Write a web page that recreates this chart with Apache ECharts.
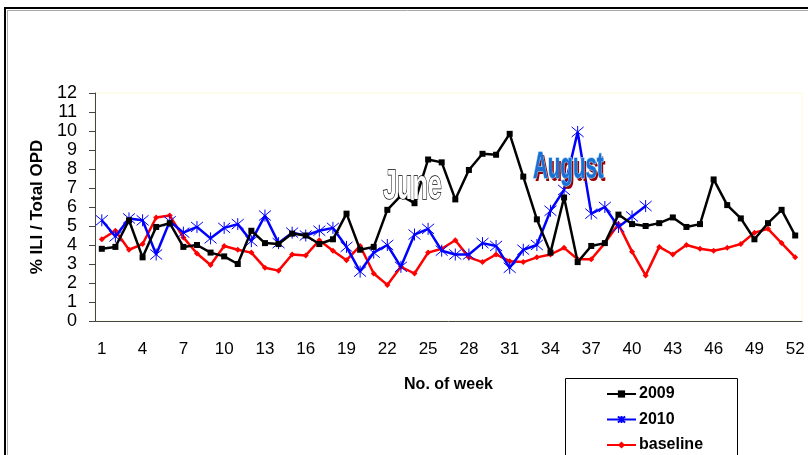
<!DOCTYPE html>
<html>
<head>
<meta charset="utf-8">
<script src="https://cdn.jsdelivr.net/npm/echarts@6/dist/echarts.min.js"></script>
<style>
  html, body { margin: 0; padding: 0; background: #fff; }
  #chart { width: 808px; height: 455px; }
</style>
</head>
<body>
<div id="chart"></div>
<script>
// weeks 1..52
var weeks = ['1','2','3','4','5','6','7','8','9','10','11','12','13','14','15','16','17','18','19','20',
  '21','22','23','24','25','26','27','28','29','30','31','32','33','34','35','36','37','38','39','40',
  '41','42','43','44','45','46','47','48','49','50','51','52'];

// % ILI / Total OPD
var ili2009 = [3.8, 3.9, 5.3, 3.35, 4.95, 5.15, 3.9, 4.0, 3.6, 3.4, 3.0, 4.75,
  4.1, 4.05, 4.6, 4.5, 4.05, 4.3, 5.65, 3.75, 3.9, 5.85, 6.6, 6.2, 8.5,
  8.35, 6.4, 7.95, 8.8, 8.75, 9.85, 7.6, 5.35, 3.6, 6.5, 3.1, 3.95,
  4.1, 5.6, 5.1, 5.0, 5.15, 5.45, 4.95, 5.1, 7.45, 6.1, 5.4, 4.3, 5.15, 5.85, 4.5];

var ili2010 = [5.3, 4.45, 5.4, 5.3, 3.5, 5.25, 4.65, 4.95, 4.35, 4.9, 5.1, 4.2,
  5.55, 4.1, 4.65, 4.5, 4.75, 4.9, 3.9, 2.6, 3.6, 4.0, 2.85, 4.55, 4.85,
  3.7, 3.5, 3.5, 4.1, 3.95, 2.8, 3.75, 4.0, 5.8, 6.9, 9.95, 5.65,
  6.0, 4.95, 5.5, 6.05, null, null, null, null, null, null, null, null, null, null, null];

var baseline = [4.3, 4.75, 3.75, 4.05, 5.45, 5.55, 4.4, 3.55, 2.95, 3.95, 3.75, 3.6,
  2.8, 2.65, 3.5, 3.45, 4.25, 3.7, 3.2, 3.95, 2.5, 1.9, 2.85, 2.5, 3.6,
  3.8, 4.25, 3.35, 3.1, 3.5, 3.15, 3.1, 3.35, 3.5, 3.85, 3.25, 3.25,
  4.1, 5.1, 3.65, 2.4, 3.9, 3.5, 4.0, 3.8, 3.7, 3.85, 4.05, 4.65, 4.85, 4.1, 3.35];

var yTicks = [0, 12, 1]; // min, max, step

var FONT = '"Liberation Sans", Arial, sans-serif';
var asterisk = 'path://M5,0L5,10M0.8,0.8L9.2,9.2M0.8,9.2L9.2,0.8';

var myChart = echarts.init(document.getElementById('chart'));

var option = {
  backgroundColor: '#fff',
  animation: false,
  grid: {
    left: 95, right: 6, top: 93, bottom: 134,
    show: true, borderColor: '#fdf8d8', borderWidth: 1, backgroundColor: 'transparent'
  },
  legend: {
    orient: 'vertical',
    left: 606, top: 386, height: 120,
    padding: 0,
    itemWidth: 29, itemHeight: 9, itemGap: 9.5,
    textStyle: { fontFamily: FONT, fontWeight: 'bold', fontSize: 16, lineHeight: 14, color: '#000', padding: [0, 0, 0, -2] },
    data: ['2009', '2010', 'baseline']
  },
  xAxis: {
    type: 'category',
    data: weeks,
    boundaryGap: true,
    name: 'No. of week',
    nameLocation: 'middle',
    nameGap: 56,
    nameTextStyle: { fontFamily: FONT, fontWeight: 'bold', fontSize: 16, color: '#000' },
    axisLine: { lineStyle: { color: '#444', width: 1 } },
    axisTick: { interval: 0, length: 6, lineStyle: { color: '#444' } },
    axisLabel: { interval: 2, margin: 20, fontFamily: FONT, fontSize: 17, color: '#000' },
    splitLine: { show: false }
  },
  yAxis: {
    type: 'value',
    min: yTicks[0], max: yTicks[1], interval: yTicks[2],
    name: '% ILI / Total OPD',
    nameLocation: 'middle',
    nameGap: 49,
    nameRotate: 90,
    nameTextStyle: { fontFamily: FONT, fontWeight: 'bold', fontSize: 17, color: '#000' },
    axisLine: { show: true, lineStyle: { color: '#444', width: 1 } },
    axisTick: { show: true, length: 6, lineStyle: { color: '#444' } },
    axisLabel: { margin: 18, fontFamily: FONT, fontSize: 18, color: '#000' },
    splitLine: { show: false }
  },
  series: [
    {
      name: '2009', type: 'line', data: ili2009,
      symbol: 'rect', symbolSize: 6, showAllSymbol: true,
      lineStyle: { color: '#000', width: 2.5 },
      itemStyle: { color: '#000' },
      z: 3
    },
    {
      name: '2010', type: 'line', data: ili2010,
      symbol: asterisk, symbolSize: 12, showAllSymbol: true,
      lineStyle: { color: '#0000ff', width: 2.5 },
      itemStyle: { color: 'rgba(0,0,0,0)', borderColor: '#0000ff', borderWidth: 1 },
      z: 2
    },
    {
      name: 'baseline', type: 'line', data: baseline,
      symbol: 'diamond', symbolSize: 6, showAllSymbol: true,
      lineStyle: { color: '#ff0000', width: 2.5 },
      itemStyle: { color: '#ff0000' },
      z: 1
    }
  ],
  graphic: [
    // outer frame
    { type: 'line', shape: { x1: 4, y1: 8, x2: 808, y2: 8 }, style: { stroke: '#000', lineWidth: 2 } },
    { type: 'line', shape: { x1: 7, y1: 10.5, x2: 808, y2: 10.5 }, style: { stroke: '#aaa', lineWidth: 1 } },
    { type: 'line', shape: { x1: 5, y1: 8, x2: 5, y2: 455 }, style: { stroke: '#000', lineWidth: 2 } },
    { type: 'line', shape: { x1: 7.5, y1: 10, x2: 7.5, y2: 455 }, style: { stroke: '#aaa', lineWidth: 1 } },
    // legend box
    { type: 'rect', shape: { x: 565.5, y: 378.5, width: 172, height: 90 }, style: { fill: 'none', stroke: '#000', lineWidth: 1 }, z: 5 },
    // annotations
    { type: 'text', x: 383, y: 166, scaleX: 0.6, z: 10,
      style: { text: 'June', font: 'bold 42px ' + FONT, fill: '#fff', stroke: '#000', lineWidth: 1.5, verticalAlign: 'top' } },
    { type: 'text', x: 535, y: 153, scaleX: 0.57, z: 10,
      style: { text: 'August', font: 'bold 36px ' + FONT, fill: '#990000', verticalAlign: 'top' } },
    { type: 'text', x: 533, y: 150, scaleX: 0.57, z: 11,
      style: { text: 'August', font: 'bold 36px ' + FONT, fill: '#1a6fd4', stroke: '#8ecbf5', lineWidth: 1.5, verticalAlign: 'top' } }
  ]
};

myChart.setOption(option);
</script>
</body>
</html>
